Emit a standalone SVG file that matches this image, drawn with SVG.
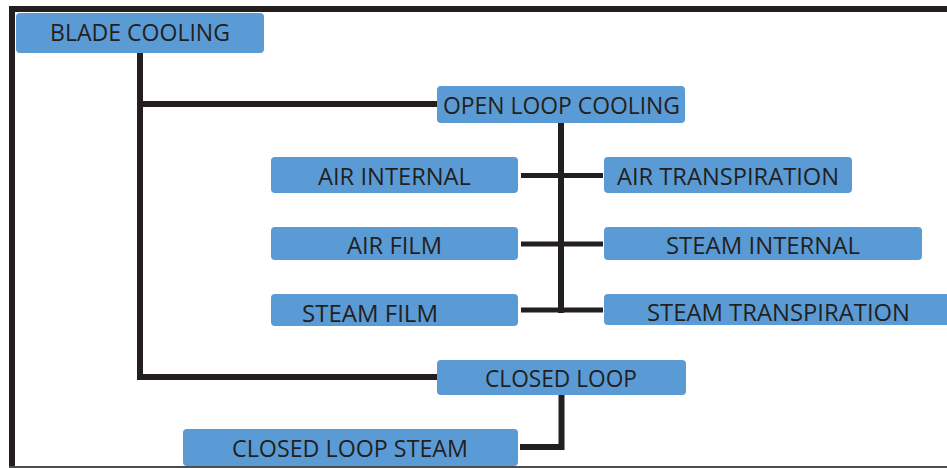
<svg xmlns="http://www.w3.org/2000/svg" width="947" height="468" viewBox="0 0 947 468">
<style>
.box{fill:#5b9bd5;}
.lbl{font-family:"Open Sans","Noto Sans","Liberation Sans",sans-serif;font-size:24px;fill:#231f20;}
.ln{stroke:#231f20;stroke-width:6;fill:none;stroke-linecap:square;}
.ln2{stroke:#231f20;stroke-width:5;fill:none;}
</style>
<rect width="947" height="468" fill="#ffffff"/>
<g id="frame">
<rect x="9" y="6" width="938" height="6" fill="#231f20"/>
<rect x="9" y="6" width="6" height="462" fill="#231f20"/>
<line x1="9" y1="467" x2="947" y2="467" stroke="#4d4d4d" stroke-width="2"/>
</g>
<g id="connectors">
<polyline class="ln" points="140,56 140,377 434,377"/>
<line class="ln" x1="140" y1="104" x2="434" y2="104"/>
<line class="ln" x1="561" y1="125" x2="561" y2="310"/>
<line class="ln2" x1="521" y1="175.5" x2="603" y2="175.5"/>
<line class="ln2" x1="521" y1="244" x2="603" y2="244"/>
<line class="ln2" x1="521" y1="310" x2="603" y2="310"/>
<polyline class="ln" points="561.5,397 561.5,447 523,447"/>
</g>
<g id="blade-cooling">
<rect class="box" x="16" y="13" width="248" height="40" rx="4"/>
<text class="lbl" x="50" y="41" textLength="180" lengthAdjust="spacingAndGlyphs">BLADE COOLING</text>
</g>
<g id="open-loop-cooling">
<rect class="box" x="437" y="86" width="248" height="37" rx="4"/>
<text class="lbl" x="443" y="114" textLength="237" lengthAdjust="spacingAndGlyphs">OPEN LOOP COOLING</text>
</g>
<g id="air-internal">
<rect class="box" x="271" y="157" width="247" height="36" rx="4"/>
<text class="lbl" x="318" y="185" textLength="153" lengthAdjust="spacingAndGlyphs">AIR INTERNAL</text>
</g>
<g id="air-film">
<rect class="box" x="271" y="227" width="247" height="33" rx="4"/>
<text class="lbl" x="347" y="254" textLength="95" lengthAdjust="spacingAndGlyphs">AIR FILM</text>
</g>
<g id="steam-film">
<rect class="box" x="271" y="294" width="247" height="32" rx="4"/>
<text class="lbl" x="302" y="322" textLength="136" lengthAdjust="spacingAndGlyphs">STEAM FILM</text>
</g>
<g id="air-transpiration">
<rect class="box" x="604" y="157" width="248" height="36" rx="4"/>
<text class="lbl" x="617" y="185" textLength="222" lengthAdjust="spacingAndGlyphs">AIR TRANSPIRATION</text>
</g>
<g id="steam-internal">
<rect class="box" x="604" y="227" width="318" height="33" rx="4"/>
<text class="lbl" x="666" y="254" textLength="194" lengthAdjust="spacingAndGlyphs">STEAM INTERNAL</text>
</g>
<g id="steam-transpiration">
<rect class="box" x="604" y="294" width="350" height="31" rx="4"/>
<text class="lbl" x="647" y="321" textLength="263" lengthAdjust="spacingAndGlyphs">STEAM TRANSPIRATION</text>
</g>
<g id="closed-loop">
<rect class="box" x="437" y="360" width="249" height="35" rx="4"/>
<text class="lbl" x="485" y="387" textLength="152" lengthAdjust="spacingAndGlyphs">CLOSED LOOP</text>
</g>
<g id="closed-loop-steam">
<rect class="box" x="183" y="429" width="335" height="37" rx="4"/>
<text class="lbl" x="232" y="457" textLength="236" lengthAdjust="spacingAndGlyphs">CLOSED LOOP STEAM</text>
</g>
</svg>
